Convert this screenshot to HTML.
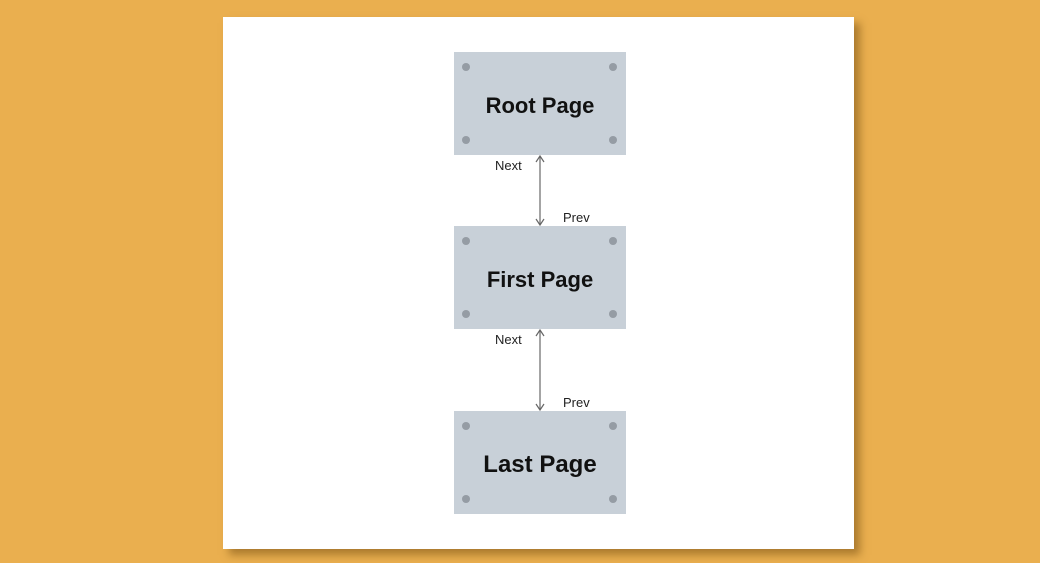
<!DOCTYPE html>
<html><head><style>
body{margin:0;width:1040px;height:563px;background:#eaaf4f;position:relative;overflow:hidden;font-family:"Liberation Sans",sans-serif}
.panel{position:absolute;left:223px;top:17px;width:631px;height:532px;background:#fff;box-shadow:6px 6px 8px rgba(120,80,20,.55)}
.box{position:absolute;left:454px;width:172px;height:103px;box-sizing:border-box;padding-top:4px;background:#c8d0d8;display:flex;align-items:center;justify-content:center;font-weight:bold;font-size:22px;color:#111}
.d{position:absolute;width:8px;height:8px;border-radius:50%;background:#959ca4}
.l{position:absolute;font-size:13px;color:#222}
</style></head><body>
<div class="panel"></div>
<div class="box" style="top:52px">Root Page</div>
<div class="box" style="top:226px">First Page</div>
<div class="box" style="top:411px;font-size:24px">Last Page</div>
<div class="d" style="left:462px;top:63px"></div><div class="d" style="left:609px;top:63px"></div>
<div class="d" style="left:462px;top:136px"></div><div class="d" style="left:609px;top:136px"></div>
<div class="d" style="left:462px;top:237px"></div><div class="d" style="left:609px;top:237px"></div>
<div class="d" style="left:462px;top:310px"></div><div class="d" style="left:609px;top:310px"></div>
<div class="d" style="left:462px;top:422px"></div><div class="d" style="left:609px;top:422px"></div>
<div class="d" style="left:462px;top:495px"></div><div class="d" style="left:609px;top:495px"></div>
<svg style="position:absolute;left:0;top:0" width="1040" height="563">
<g stroke="#666" stroke-width="1.2" fill="none">
<line x1="540" y1="157" x2="540" y2="224"/><polyline points="536,162 540,156 544,162"/><polyline points="536,219 540,225 544,219"/>
<line x1="540" y1="331" x2="540" y2="409"/><polyline points="536,336 540,330 544,336"/><polyline points="536,404 540,410 544,404"/>
</g></svg>
<div class="l" style="left:495px;top:158px">Next</div>
<div class="l" style="left:563px;top:210px">Prev</div>
<div class="l" style="left:495px;top:332px">Next</div>
<div class="l" style="left:563px;top:395px">Prev</div>
</body></html>
